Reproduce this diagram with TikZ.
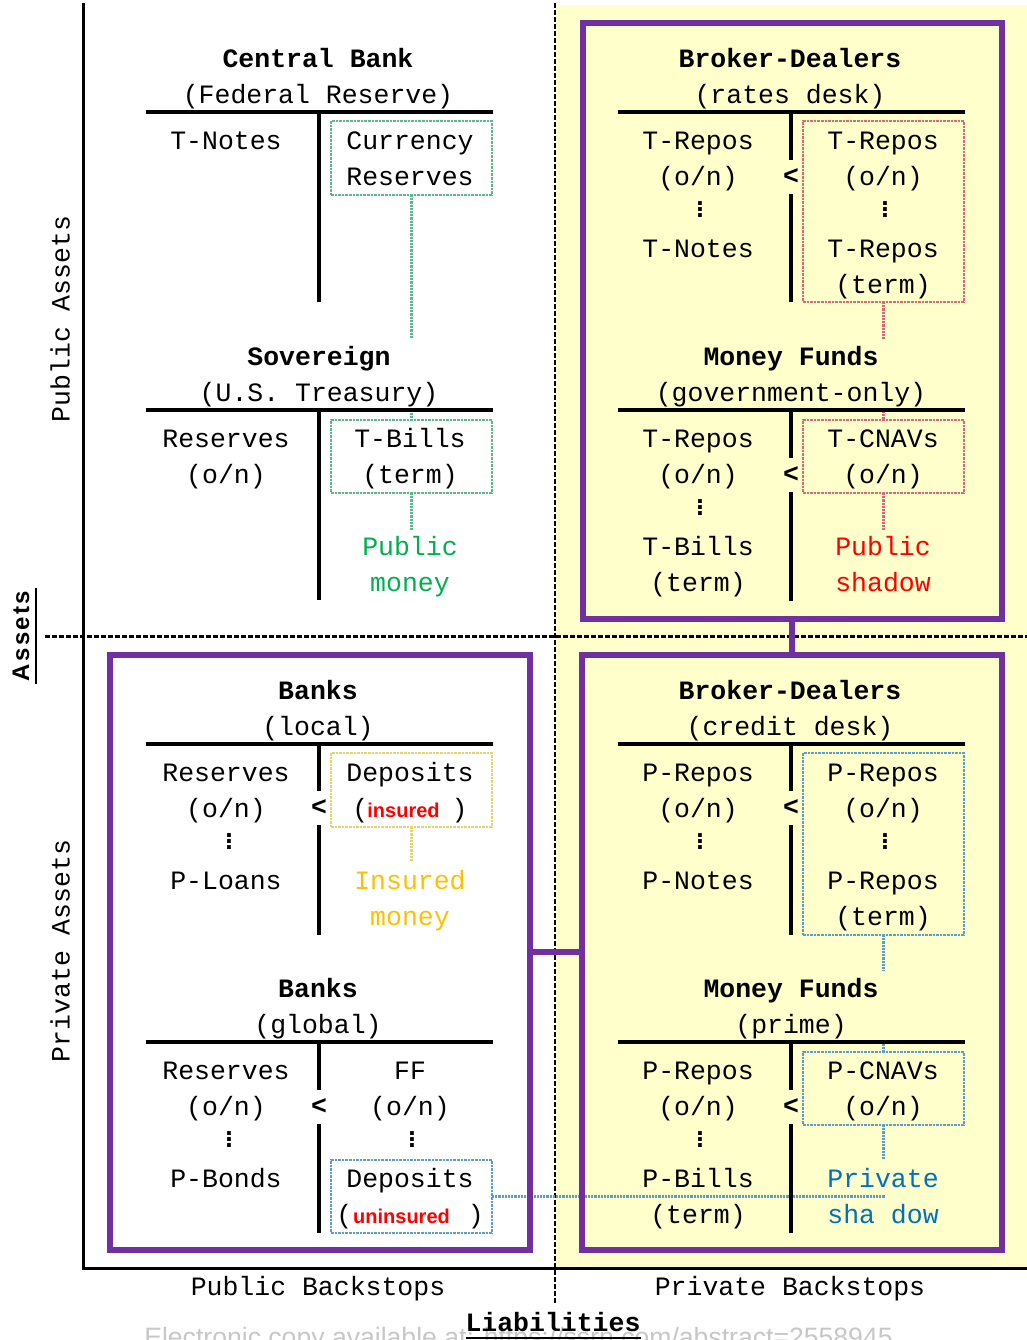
\documentclass[tikz,border=0pt]{standalone}
\usepackage{fontspec}
\setmainfont{Liberation Mono}
\setmonofont{Liberation Mono}
\newfontfamily\sansf{Liberation Sans}
\newfontfamily\assetsf[LetterSpace=10]{Liberation Sans Bold}
\newcommand\threedots{\vbox{\baselineskip=6pt\lineskiplimit=-50pt\lineskip=0pt\hbox{\bfseries.}\hbox{\bfseries.}\hbox{\bfseries.}}}
\definecolor{purp}{HTML}{7030A0}
\definecolor{bgy}{HTML}{FFFFCC}
\definecolor{pubg}{HTML}{00B050}
\definecolor{gbx}{HTML}{55BB88}
\definecolor{rbx}{HTML}{DD6677}
\definecolor{ybx}{HTML}{E5D56A}
\definecolor{bbx}{HTML}{5A9FCC}
\definecolor{goldt}{HTML}{FFC000}
\definecolor{pblue}{HTML}{0070C0}
\tikzset{
  cell/.style={font=\fontsize{26.5}{30}\selectfont, text height=15pt, text depth=0pt, inner sep=0pt, outer sep=0pt, anchor=center},
  ttl/.style={cell, font=\fontsize{26.5}{30}\selectfont\bfseries, minimum height=38pt, inner xsep=4pt},
  subt/.style={cell, minimum height=34pt, inner xsep=4pt},
  wide/.style={minimum width=347pt},
  ltn/.style={cell, font=\fontsize{26.5}{30}\selectfont\bfseries, minimum height=34pt},
  vdn/.style={inner sep=0pt, font=\fontsize{26.5}{30}\selectfont},
  cbox/.style={draw=#1, line width=2.6pt, densely dotted, inner sep=0pt, outer sep=0pt, minimum width=161pt},
  conn/.style={draw=#1, line width=2.2pt, densely dotted},
  tline/.style={line width=3.5pt},
  axisl/.style={line width=3pt, line join=miter},
  dashl/.style={line width=2.6pt, dash pattern=on 5pt off 2pt},
  pbox/.style={draw=purp, line width=6pt, inner sep=0pt, outer sep=0pt, minimum width=420pt, minimum height=595.5pt},
  plink/.style={draw=purp, line width=6pt}
}
\begin{document}
\begin{tikzpicture}[x=1pt,y=-1pt]
\useasboundingbox (0,0) rectangle (1027,1340);
% background
\fill[bgy] (556,5) rectangle (1027,1268);
% axes
\draw[axisl] (83,3) -- (83,1268) -- (1027,1268);
\draw[dashl] (555,3) -- (555,1304);
\draw[dashl] (45,636.5) -- (1027,636.5);

% coloured boxes
\node[cbox=gbx, minimum height=74pt] (cr) at (411.5,158) {};
\node[cbox=gbx, minimum height=73pt] (tb) at (411.5,456.5) {};
\node[cbox=rbx, minimum height=181pt] (rd1) at (883.5,211.5) {};
\node[cbox=rbx, minimum height=73pt] (rd2) at (883.5,456.5) {};
\node[cbox=ybx, minimum height=74pt] (yd) at (411.5,790) {};
\node[cbox=bbx, minimum height=182pt] (bd1) at (883.5,844) {};
\node[cbox=bbx, minimum height=73pt] (pc) at (883.5,1088.5) {};
\node[cbox=bbx, minimum height=73pt] (ud) at (411.5,1196.5) {};

\coordinate (pmtop) at (411.5,530);
\coordinate (pstop) at (883.5,530);
\coordinate (imtop) at (411.5,862);
\coordinate (pvtop) at (883.5,1160);
\coordinate (pvmid) at (885,1196.5);

% connectors
\draw[conn=gbx] (cr.south) -- (tb.north);
\draw[conn=gbx] (tb.south) -- (pmtop);
\draw[conn=rbx] (rd1.south) -- (rd2.north);
\draw[conn=rbx] (rd2.south) -- (pstop);
\draw[conn=ybx] (yd.south) -- (imtop);
\draw[conn=bbx] (bd1.south) -- (pc.north);
\draw[conn=bbx] (pc.south) -- (pvtop);
\draw[conn=bbx] (ud.east) -- (pvmid);

% titles
\node[ttl] (t1) at (318,60) {Central Bank};
\node[subt] (s1) at (318,96) {(Federal Reserve)};
\node[ttl, wide, fill=white] (t2) at (319,358) {Sovereign};
\node[subt, wide, fill=white] (s2) at (319,394) {(U.S. Treasury)};
\node[ttl] (t3) at (790,60) {Broker-Dealers};
\node[subt] (s3) at (790,96) {(rates desk)};
\node[ttl, wide, fill=bgy] (t4) at (791,358) {Money Funds};
\node[subt, wide, fill=bgy] (s4) at (791,394) {(government-only)};
\node[ttl] (t5) at (318,692) {Banks};
\node[subt] (s5) at (318,728) {(local)};
\node[ttl] (t6) at (318,990) {Banks};
\node[subt] (s6) at (318,1026) {(global)};
\node[ttl] (t7) at (790,692) {Broker-Dealers};
\node[subt] (s7) at (790,728) {(credit desk)};
\node[ttl, wide, fill=bgy] (t8) at (791,990) {Money Funds};
\node[subt, wide, fill=bgy] (s8) at (791,1026) {(prime)};

% T-account lines
\draw[tline] (146,112) -- (493,112);
\draw[tline] (319,112) -- (319,302);
\draw[tline] (146,410) -- (493,410);
\draw[tline] (319,410) -- (319,600);

\draw[tline] (618,112) -- (965,112);
\node[ltn] (lt1) at (791,177) {<};
\draw[tline] (791,112) -- (lt1.north);
\draw[tline] (lt1.south) -- (791,302);
\draw[tline] (618,410) -- (965,410);
\node[ltn] (lt2) at (791,475) {<};
\draw[tline] (791,410) -- (lt2.north);
\draw[tline] (lt2.south) -- (791,601);

\draw[tline] (146,744) -- (493,744);
\node[ltn] (lt3) at (319,808) {<};
\draw[tline] (319,744) -- (lt3.north);
\draw[tline] (lt3.south) -- (319,935);
\draw[tline] (146,1042) -- (493,1042);
\node[ltn] (lt4) at (319,1107) {<};
\draw[tline] (319,1042) -- (lt4.north);
\draw[tline] (lt4.south) -- (319,1233);

\draw[tline] (618,744) -- (965,744);
\node[ltn] (lt5) at (791,808) {<};
\draw[tline] (791,744) -- (lt5.north);
\draw[tline] (lt5.south) -- (791,935);
\draw[tline] (618,1042) -- (965,1042);
\node[ltn] (lt6) at (791,1107) {<};
\draw[tline] (791,1042) -- (lt6.north);
\draw[tline] (lt6.south) -- (791,1233);

% purple groups
\node[pbox, minimum width=419.5pt] (ptr) at (792.25,320.75) {};
\node[pbox] (pbr) at (792,952.25) {};
\node[pbox] (pbl) at (320,952.25) {};
\draw[plink] (ptr.south) -- (pbr.north);
\draw[plink] (pbl.east) -- (pbr.west);

% Central Bank
\node[cell] (cb1) at (226,142) {T-Notes};
\node[cell] (cb2) at (410,142) {Currency};
\node[cell] (cb3) at (410,178) {Reserves};
% Sovereign
\node[cell] (sv1) at (226,440) {Reserves};
\node[cell] (sv2) at (226,476) {(o/n)};
\node[cell] (sv3) at (410,440) {T-Bills};
\node[cell] (sv4) at (410,476) {(term)};
\node[cell, text=pubg] (sv5) at (410,548) {Public};
\node[cell, text=pubg] (sv6) at (410,584) {money};
% Broker-Dealers rates
\node[cell] (br1) at (698,142) {T-Repos};
\node[cell] (br2) at (698,178) {(o/n)};
\node[vdn] (br3) at (700,210) {\threedots};
\node[cell] (br4) at (698,250) {T-Notes};
\node[cell] (br5) at (883,142) {T-Repos};
\node[cell] (br6) at (883,178) {(o/n)};
\node[vdn] (br7) at (885,210) {\threedots};
\node[cell] (br8) at (883,250) {T-Repos};
\node[cell] (br9) at (883,286) {(term)};
% Money funds gov
\node[cell] (mg1) at (698,440) {T-Repos};
\node[cell] (mg2) at (698,476) {(o/n)};
\node[vdn] (mg3) at (700,508) {\threedots};
\node[cell] (mg4) at (698,548) {T-Bills};
\node[cell] (mg5) at (698,584) {(term)};
\node[cell] (mg6) at (883,440) {T-CNAVs};
\node[cell] (mg7) at (883,476) {(o/n)};
\node[cell, text=red] (mg8) at (883,548) {Public};
\node[cell, text=red] (mg9) at (883,584) {shadow};
% Banks local
\node[cell] (bl1) at (226,774) {Reserves};
\node[cell] (bl2) at (226,810) {(o/n)};
\node[vdn] (bl3) at (229,842) {\threedots};
\node[cell] (bl4) at (226,882) {P-Loans};
\node[cell] (bl5) at (410,774) {Deposits};
\node[cell] (bl6) at (410,810) {(\kern-1pt{\sansf\bfseries\fontsize{20}{24}\selectfont\color{red}insured}\hspace{12pt})};
\node[cell, text=goldt] (bl7) at (410,882) {Insured};
\node[cell, text=goldt] (bl8) at (410,918) {money};
% Banks global
\node[cell] (bg1) at (226,1072) {Reserves};
\node[cell] (bg2) at (226,1108) {(o/n)};
\node[vdn] (bg3) at (229,1140) {\threedots};
\node[cell] (bg4) at (226,1180) {P-Bonds};
\node[cell] (bg5) at (410,1072) {FF};
\node[cell] (bg6) at (410,1108) {(o/n)};
\node[vdn] (bg7) at (412,1140) {\threedots};
\node[cell] (bg8) at (410,1180) {Deposits};
\node[cell] (bg9) at (410,1216) {(\kern1pt{\sansf\bfseries\fontsize{20}{24}\selectfont\color{red}uninsured}\hspace{18pt})};
% Broker-Dealers credit
\node[cell] (bc1) at (698,774) {P-Repos};
\node[cell] (bc2) at (698,810) {(o/n)};
\node[vdn] (bc3) at (700,842) {\threedots};
\node[cell] (bc4) at (698,882) {P-Notes};
\node[cell] (bc5) at (883,774) {P-Repos};
\node[cell] (bc6) at (883,810) {(o/n)};
\node[vdn] (bc7) at (885,842) {\threedots};
\node[cell] (bc8) at (883,882) {P-Repos};
\node[cell] (bc9) at (883,918) {(term)};
% Money funds prime
\node[cell] (mp1) at (698,1072) {P-Repos};
\node[cell] (mp2) at (698,1108) {(o/n)};
\node[vdn] (mp3) at (700,1140) {\threedots};
\node[cell] (mp4) at (698,1180) {P-Bills};
\node[cell] (mp5) at (698,1216) {(term)};
\node[cell] (mp6) at (883,1072) {P-CNAVs};
\node[cell] (mp7) at (883,1108) {(o/n)};
\node[cell, text=pblue] (mp8) at (883,1180) {Private};
\node[cell, text=pblue] (mp9) at (883,1216) {sha dow};

% axis labels
\node[cell, rotate=90] (pa) at (62,319) {Public Assets};
\node[cell, rotate=90] (pra) at (62,951) {Private Assets};
\node[rotate=90, inner sep=0pt, font=\assetsf\fontsize{24}{28}\selectfont] (as) at (21,636) {Assets};
\draw[line width=1.6pt] (36,588) -- (36,684);
\node[cell] (pb) at (318,1288) {Public Backstops};
\node[cell] (prb) at (790,1288) {Private Backstops};
% watermark
\node[anchor=base, inner sep=0pt, text=black!22, font=\sansf\fontsize{26.6}{30}\selectfont] (wm) at (518.5,1346) {Electronic copy available at: https://ssrn.com/abstract=2558945};
\node[cell, font=\fontsize{26.5}{30}\selectfont\bfseries] (li) at (553,1324) {Liabilities};
\draw[line width=2pt] (466,1338) -- (641,1338);
\end{tikzpicture}
\end{document}
